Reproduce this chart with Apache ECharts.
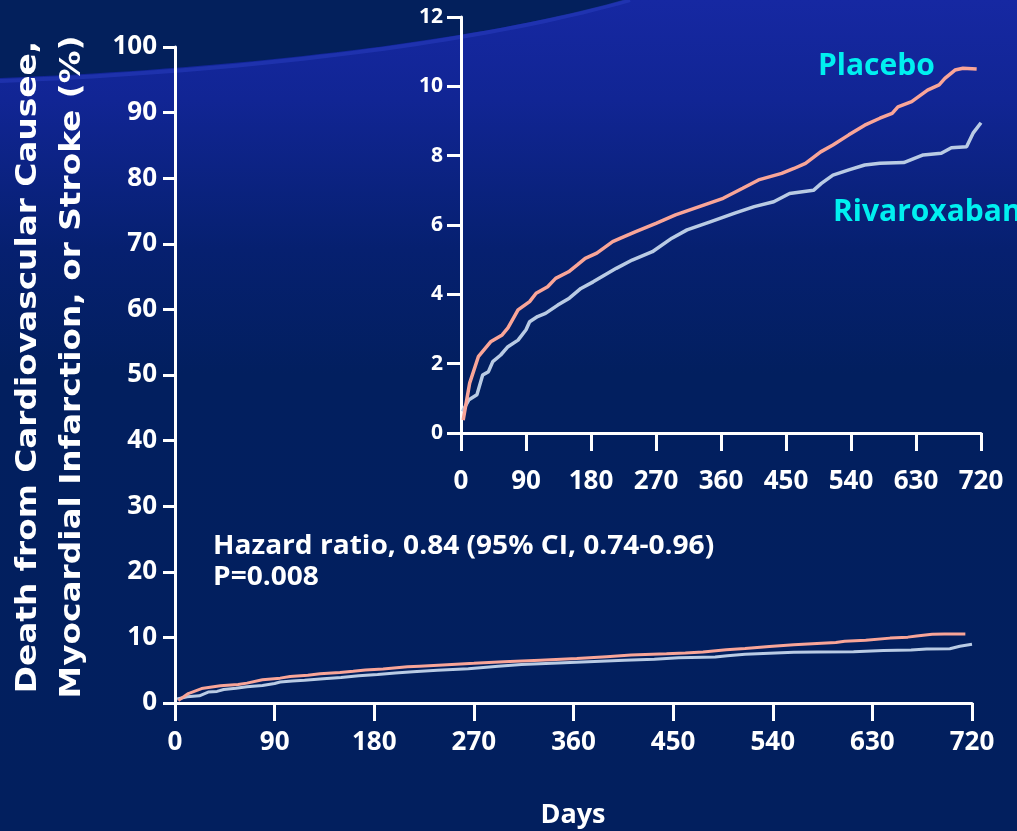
<!DOCTYPE html>
<html>
<head>
<meta charset="utf-8">
<script src="https://cdn.jsdelivr.net/npm/echarts@6/dist/echarts.min.js"></script>
<style>
  html, body { margin: 0; padding: 0; background: #021f5e; }
  #chart { width: 1017px; height: 831px; }
</style>
</head>
<body>
<div id="chart"></div>
<script>
// Cumulative incidence (%) of the composite endpoint by study day
const placeboDays = [3, 12, 24, 41, 57, 65, 79, 95, 104, 120, 131, 149, 161, 172, 188, 210, 221, 242, 270, 297, 330, 363, 390, 412, 444, 461, 477, 498, 515, 537, 559, 580, 597, 605, 624, 646, 662, 670, 684, 695, 714];
const placeboPct  = [0.37, 1.44, 2.2, 2.63, 2.83, 3.03, 3.55, 3.79, 4.03, 4.22, 4.46, 4.65, 4.85, 5.04, 5.19, 5.52, 5.62, 5.81, 6.05, 6.29, 6.53, 6.77, 7.06, 7.3, 7.49, 7.63, 7.78, 8.11, 8.31, 8.6, 8.88, 9.08, 9.22, 9.41, 9.56, 9.89, 10.04, 10.23, 10.47, 10.52, 10.5];

const rivaDays = [2, 11, 22, 30, 38, 44, 55, 65, 79, 90, 95, 106, 117, 134, 150, 166, 183, 199, 215, 237, 265, 292, 313, 346, 379, 406, 433, 455, 488, 499, 515, 537, 559, 580, 613, 640, 665, 679, 700, 709, 720];
const rivaPct  = [0.62, 0.96, 1.1, 1.67, 1.77, 2.06, 2.25, 2.49, 2.68, 2.98, 3.21, 3.36, 3.45, 3.69, 3.89, 4.17, 4.36, 4.56, 4.75, 4.99, 5.23, 5.62, 5.86, 6.1, 6.34, 6.53, 6.67, 6.91, 7.0, 7.2, 7.44, 7.59, 7.73, 7.78, 7.8, 8.02, 8.07, 8.23, 8.26, 8.65, 8.95];

// Axis ranges
const dayMax = 720, dayStep = 90;
const mainMax = 100, mainStep = 10;
const insetMax = 12, insetStep = 2;

const seriesNames = ['Placebo', 'Rivaroxaban'];
const seriesColors = ['#f9a598', '#b9cbe4'];

const yTitle = 'Death from Cardiovascular Causee,\nMyocardial Infarction, or Stroke (%)';
const xTitle = 'Days';
const statsText = 'Hazard ratio, 0.84 (95% CI, 0.74-0.96)\nP=0.008';

const FONT = '"Open Sans", "Noto Sans", sans-serif';
const TITLE_FONT = '"DejaVu Sans", Verdana, sans-serif';
const pairs = (xs, ys) => xs.map((x, i) => [x, ys[i]]);
const placeboData = pairs(placeboDays, placeboPct);
const rivaData = pairs(rivaDays, rivaPct);

// Sample a cubic Bezier into a point list (decorative background sweep)
function bezierPoints(p0, p1, p2, p3, n) {
  const pts = [];
  for (let i = 0; i <= n; i++) {
    const t = i / n, u = 1 - t;
    pts.push([
      u * u * u * p0[0] + 3 * u * u * t * p1[0] + 3 * u * t * t * p2[0] + t * t * t * p3[0],
      u * u * u * p0[1] + 3 * u * u * t * p1[1] + 3 * u * t * t * p2[1] + t * t * t * p3[1]
    ]);
  }
  return pts;
}
const sweep = bezierPoints([0, 78], [250, 68], [480, 40], [625, 0], 40);
const sweepEdge = bezierPoints([0, 81], [250, 71], [480, 43], [630, 0], 40);

function axisStyle(tickLen) {
  return {
    axisLine: { show: true, lineStyle: { color: '#ffffff', width: 3 } },
    axisTick: { show: true, length: tickLen, lineStyle: { color: '#ffffff', width: 3 } },
    splitLine: { show: false }
  };
}

const chart = echarts.init(document.getElementById('chart'), null, { renderer: 'canvas' });

const option = {
  backgroundColor: {
    type: 'linear', x: 0, y: 0, x2: 0, y2: 1,
    colorStops: [
      { offset: 0, color: '#1628a2' },
      { offset: 0.12, color: '#112594' },
      { offset: 0.3, color: '#062070' },
      { offset: 0.45, color: '#021f5f' },
      { offset: 1, color: '#021f5e' }
    ]
  },
  animation: false,
  textStyle: { fontFamily: FONT },
  grid: [
    { left: 175, right: 45, top: 47, bottom: 128 },
    { left: 461, right: 36, top: 17, bottom: 398 }
  ],
  xAxis: [
    Object.assign({
      type: 'value', gridIndex: 0, min: 0, max: dayMax, interval: dayStep,
      axisLabel: { color: '#ffffff', fontSize: 26, fontWeight: 'bold', margin: 27, fontFamily: FONT }
    }, axisStyle(18)),
    Object.assign({
      type: 'value', gridIndex: 1, min: 0, max: dayMax, interval: dayStep,
      axisLabel: { color: '#ffffff', fontSize: 26, fontWeight: 'bold', margin: 36, fontFamily: FONT }
    }, axisStyle(18))
  ],
  yAxis: [
    Object.assign({
      type: 'value', gridIndex: 0, min: 0, max: mainMax, interval: mainStep,
      axisLabel: { color: '#ffffff', fontSize: 26, fontWeight: 'bold', margin: 18, fontFamily: FONT }
    }, axisStyle(12)),
    Object.assign({
      type: 'value', gridIndex: 1, min: 0, max: insetMax, interval: insetStep,
      axisLabel: { color: '#ffffff', fontSize: 21, fontWeight: 'bold', margin: 18, fontFamily: FONT }
    }, axisStyle(14))
  ],
  series: [
    { name: seriesNames[0], type: 'line', xAxisIndex: 0, yAxisIndex: 0, data: placeboData, showSymbol: false, lineStyle: { color: seriesColors[0], width: 3 }, z: 3 },
    { name: seriesNames[1], type: 'line', xAxisIndex: 0, yAxisIndex: 0, data: rivaData, showSymbol: false, lineStyle: { color: seriesColors[1], width: 3 }, z: 2 },
    { name: seriesNames[0], type: 'line', xAxisIndex: 1, yAxisIndex: 1, data: placeboData, showSymbol: false, lineStyle: { color: seriesColors[0], width: 3.5 }, z: 3 },
    { name: seriesNames[1], type: 'line', xAxisIndex: 1, yAxisIndex: 1, data: rivaData, showSymbol: false, lineStyle: { color: seriesColors[1], width: 3.5 }, z: 2 }
  ],
  graphic: [
    // dark sweep across the upper-left corner
    {
      type: 'polygon', z: -10, silent: true,
      shape: { points: [[0, 0]].concat(sweep) },
      style: { fill: '#03205c' }
    },
    {
      type: 'polyline', z: -9, silent: true,
      shape: { points: sweepEdge },
      style: { stroke: 'rgba(40,60,190,0.55)', lineWidth: 4, fill: null }
    },
    {
      // rotated two-line axis title, stretched along its length
      type: 'text', silent: true,
      x: 51, y: 367, rotation: Math.PI / 2, scaleX: 1.17,
      style: {
        text: yTitle, fill: '#ffffff', font: 'bold 28px ' + TITLE_FONT,
        textAlign: 'center', textVerticalAlign: 'middle', lineHeight: 44
      }
    },
    {
      type: 'text', silent: true, x: 573, y: 815,
      style: { text: xTitle, fill: '#ffffff', font: 'bold 27px ' + FONT, textAlign: 'center', textVerticalAlign: 'middle' }
    },
    {
      type: 'text', silent: true, x: 213, y: 531, scaleX: 1.04,
      style: { text: statsText, fill: '#ffffff', font: 'bold 27px ' + FONT, textAlign: 'left', textVerticalAlign: 'top', lineHeight: 31 }
    },
    {
      type: 'text', silent: true, x: 818, y: 66,
      style: { text: seriesNames[0], fill: '#00f0f0', font: 'bold 30px ' + FONT, textAlign: 'left', textVerticalAlign: 'middle' }
    },
    {
      type: 'text', silent: true, x: 833, y: 212,
      style: { text: seriesNames[1], fill: '#00f0f0', font: 'bold 30px ' + FONT, textAlign: 'left', textVerticalAlign: 'middle' }
    }
  ]
};

chart.setOption(option);
</script>
</body>
</html>
